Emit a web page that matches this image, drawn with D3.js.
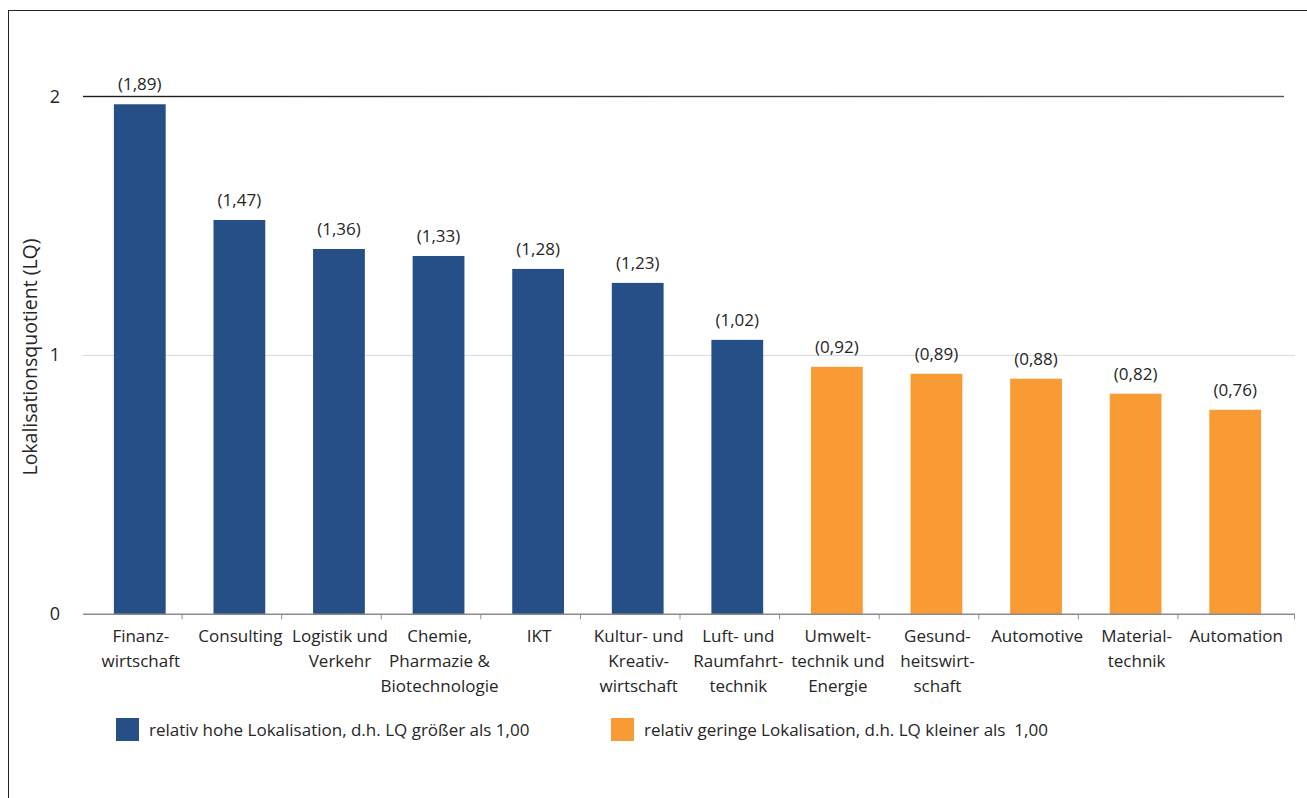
<!DOCTYPE html>
<html><head><meta charset="utf-8">
<script src="https://cdn.jsdelivr.net/npm/d3@7"></script>
<style>body{margin:0;background:#fff}svg text{font-family:"Open Sans",sans-serif;fill:#262626;white-space:pre}</style>
</head><body>
<svg id="c" width="1307" height="798"></svg>
<script>
const categories = [
  ["Finanz-","wirtschaft"],["Consulting"],["Logistik und","Verkehr"],["Chemie,","Pharmazie &","Biotechnologie"],
  ["IKT"],["Kultur- und","Kreativ-","wirtschaft"],["Luft- und","Raumfahrt-","technik"],["Umwelt-","technik und","Energie"],
  ["Gesund-","heitswirt-","schaft"],["Automotive"],["Material-","technik"],["Automation"]
];
const values = [1.97, 1.523, 1.411, 1.384, 1.334, 1.28, 1.06, 0.956, 0.929, 0.91, 0.852, 0.79];
const valueLabels = ["(1,89)","(1,47)","(1,36)","(1,33)","(1,28)","(1,23)","(1,02)","(0,92)","(0,89)","(0,88)","(0,82)","(0,76)"];
const groups = ["high","high","high","high","high","high","high","low","low","low","low","low"];
const legendLabels = ["relativ hohe Lokalisation, d.h. LQ größer als 1,00","relativ geringe Lokalisation, d.h. LQ kleiner als  1,00"];
const yTicks = [0,1,2];
const colors = {high:"#264f87", low:"#f89b34"};

const svg = d3.select("#c");
svg.append("line").attr("x1",8.5).attr("x2",1307).attr("y1",10.5).attr("y2",10.5).attr("stroke","#222").attr("stroke-width",1);
svg.append("line").attr("x1",8.5).attr("x2",8.5).attr("y1",10).attr("y2",798).attr("stroke","#222").attr("stroke-width",1);

const idx = d3.range(values.length);
const x = d3.scaleBand().domain(idx).range([90,1285]).paddingInner(0.48).paddingOuter(0.24);
const y = d3.scaleLinear().domain([0,2]).range([614.3,96.5]);
const axL = 83, axR = 1295;

svg.append("line").attr("x1",axL).attr("x2",axR).attr("y1",y(1)).attr("y2",y(1)).attr("stroke","#d9d9d9").attr("stroke-width",1);
const grad = svg.append("defs").append("linearGradient").attr("id","g2");
grad.append("stop").attr("offset","0%").attr("stop-color","#1a1a1a");
grad.append("stop").attr("offset","100%").attr("stop-color","#555");
svg.append("rect").attr("x",axL).attr("y",y(2)-0.7).attr("width",1284-axL).attr("height",1.4).attr("fill","url(#g2)");

svg.selectAll("rect.bar").data(idx).join("rect").attr("class","bar")
  .attr("x",i=>x(i)).attr("width",x.bandwidth())
  .attr("y",i=>y(values[i])).attr("height",i=>y(0)-y(values[i]))
  .attr("fill",i=>colors[groups[i]]);

svg.append("line").attr("x1",axL).attr("x2",axR).attr("y1",y(0)).attr("y2",y(0)).attr("stroke","#8c8c8c").attr("stroke-width",1.5);
const tickXs = idx.slice(1).map(i=>x(i)+x.bandwidth()/2 - x.step()/2 - 7.5).concat([axR-0.5]);
svg.selectAll("line.tk").data(tickXs).join("line").attr("class","tk")
  .attr("x1",d=>d).attr("x2",d=>d).attr("y1",y(0)).attr("y2",y(0)+5).attr("stroke","#8c8c8c").attr("stroke-width",1);

svg.selectAll("text.yt").data(yTicks).join("text").attr("class","yt")
  .attr("x",55).attr("y",d=>y(d)+6).attr("text-anchor","middle").attr("font-size",18).text(d=>d);

svg.append("text").attr("transform","translate(37,357) rotate(-90)").attr("text-anchor","middle")
  .attr("font-size",19.5).text("Lokalisationsquotient (LQ)");

svg.selectAll("text.vl").data(idx).join("text").attr("class","vl")
  .attr("x",i=>x(i)+x.bandwidth()/2).attr("y",i=>y(values[i])-14)
  .attr("text-anchor","middle").attr("font-size",17).text(i=>valueLabels[i]);

const cl = svg.selectAll("text.cl").data(idx).join("text").attr("class","cl")
  .attr("text-anchor","middle").attr("font-size",17);
cl.selectAll("tspan").data(i=>categories[i].map(t=>({t,i}))).join("tspan")
  .attr("x",d=>x(d.i)+x.bandwidth()/2 + 1).attr("y",(d,j)=>642+j*25).text(d=>d.t);

const legX = [116,611];
["high","low"].forEach((g,k)=>{
  svg.append("rect").attr("x",legX[k]).attr("y",718).attr("width",23).attr("height",23).attr("fill",colors[g]);
  svg.append("text").attr("x",legX[k]+33).attr("y",736).attr("font-size",17).text(legendLabels[k]);
});
</script>
</body></html>
